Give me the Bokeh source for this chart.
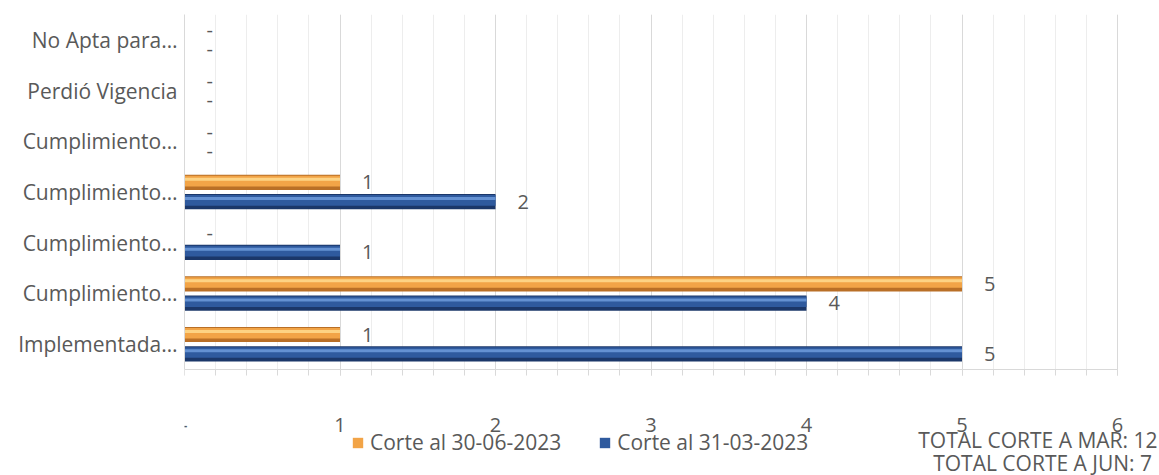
from bokeh.plotting import figure
from bokeh.models import (ColumnDataSource, Range1d, FixedTicker, SingleIntervalTicker,
                          Legend, LegendItem, Label, Grid)
from bokeh.transform import dodge
from bokeh.core.properties import value
from bokeh.embed import file_html
from bokeh.resources import INLINE
import numpy as np

# ---- data (bottom to top) ----
categories = ["Implementada…", "Cumplimiento…", "Cumplimiento…", "Cumplimiento…",
              "Cumplimiento…", "Perdió Vigencia", "No Apta para…"]
corte_jun = [1, 5, 0, 1, 0, 0, 0]   # Corte al 30-06-2023
corte_mar = [5, 4, 1, 2, 0, 0, 0]   # Corte al 31-03-2023
x_ticks = [0, 1, 2, 3, 4, 5, 6]
x_tick_labels = ["-", "1", "2", "3", "4", "5", "6"]
total_texts = ["TOTAL CORTE A MAR: 12", "TOTAL CORTE A JUN:  7"]
series_names = ["Corte al 30-06-2023", "Corte al 31-03-2023"]

pos = list(range(len(categories)))
src = ColumnDataSource(dict(
    y=pos, jun=corte_jun, mar=corte_mar,
    jun_lbl=[str(v) if v else "-" for v in corte_jun],
    mar_lbl=[str(v) if v else "-" for v in corte_mar],
))

FONT = "Open Sans"
TXT = "#595959"

# layout (pixels)
W, H = 1159, 475
FRAME_L, X6_PX, FRAME_T, AXIS_Y = 184, 1117, 14, 369
x_max = x_ticks[-1]
n = len(categories)
px_per_cat = (AXIS_Y - FRAME_T) / n
px_per_x = (X6_PX - FRAME_L) / x_max
y_lo = -0.5 - (H - AXIS_Y) / px_per_cat
y_hi = n - 0.5
x_hi = x_max + (W - X6_PX) / px_per_x

p = figure(width=W, height=H, output_backend="svg", toolbar_location=None,
           x_range=Range1d(0, x_hi), y_range=Range1d(y_lo, y_hi),
           min_border_left=FRAME_L, min_border_right=0,
           min_border_top=FRAME_T, min_border_bottom=0)
p.outline_line_color = None
p.background_fill_color = "white"

# grid limited to the plot region
p.ygrid.grid_line_color = None
if "cross_bounds" in Grid.properties():
    p.xgrid.bounds = (0, x_max)
    p.xgrid.cross_bounds = (-0.5, y_hi)
    p.xgrid.grid_line_color = "#D9D9D9"
    p.xgrid.minor_grid_line_color = "#EDEDED"
    p.xgrid.ticker = SingleIntervalTicker(interval=1, num_minor_ticks=5)
else:
    p.xgrid.grid_line_color = None
    minor = [v for v in np.round(np.arange(0, x_max + 0.001, 0.2), 2) if v not in x_ticks]
    p.segment(x0=minor, x1=minor, y0=-0.5, y1=y_hi, line_color="#EDEDED", line_width=1)
    p.segment(x0=x_ticks, x1=x_ticks, y0=-0.5, y1=y_hi, line_color="#D9D9D9", line_width=1)

# x axis at fixed location
xa = p.xaxis[0]
xa.fixed_location = -0.5
xa.bounds = (0, x_max)
xa.ticker = SingleIntervalTicker(interval=1, num_minor_ticks=5)
xa.major_label_overrides = {t: l for t, l in zip(x_ticks, x_tick_labels)}
xa.axis_line_color = "#D9D9D9"
xa.major_tick_line_color = "#D9D9D9"
xa.minor_tick_line_color = "#D9D9D9"
xa.major_tick_in = 0
xa.minor_tick_in = 0
xa.major_tick_out = 6
xa.minor_tick_out = 6
xa.major_label_standoff = 42
xa.major_label_text_font = FONT
xa.major_label_text_font_size = "20px"
xa.major_label_text_color = TXT

# y axis
ya = p.yaxis[0]
ya.bounds = (-0.5, y_hi)
ya.ticker = FixedTicker(ticks=pos)
ya.major_label_overrides = {i: c for i, c in zip(pos, categories)}
ya.axis_line_color = "#D9D9D9"
ya.major_tick_line_color = None
ya.minor_tick_line_color = None
ya.major_tick_out = 0
ya.major_tick_in = 0
ya.major_label_standoff = 7
ya.major_label_text_font = FONT
ya.major_label_text_font_size = "21px"
ya.major_label_text_color = TXT

OFF = 0.19
BH = 0.30
series = [
    ("jun", "jun_lbl", OFF, "#B96F26", "#F2A447", "#FFDC8F"),
    ("mar", "mar_lbl", -OFF, "#1B3769", "#2F5A9E", "#6D9BDB"),
]
legend_items = []
for (col, lbl, off, dark, base, light), name in zip(series, series_names):
    p.hbar(y=dodge("y", off, range=p.y_range), right=col, left=0, height=BH, source=src,
           fill_color=dark, line_color=None)
    mid = p.hbar(y=dodge("y", off + 0.025, range=p.y_range), right=col, left=0, height=BH - 0.09,
                 source=src, fill_color=base, line_color=None)
    p.hbar(y=dodge("y", off + 0.06, range=p.y_range), right=col, left=0, height=0.06,
           source=src, fill_color=light, line_color=None, fill_alpha=0.85)
    p.text(x=col, y=dodge("y", off, range=p.y_range), text=lbl, source=src,
           x_offset=22, text_align="left", text_baseline="middle",
           text_font=value(FONT), text_font_size="20px", text_color=TXT)
    legend_items.append(LegendItem(label=name, renderers=[mid]))

legend = Legend(items=legend_items, orientation="horizontal",
                location=(351 - FRAME_L, H - 456),
                label_text_font=FONT, label_text_font_size="21px", label_text_color=TXT,
                glyph_width=13, glyph_height=13, label_standoff=6, spacing=37,
                padding=0, margin=0, border_line_color=None, background_fill_alpha=0,
                label_height=20)
p.add_layout(legend, "center")

total_y = [439, 462]
for t, ty in zip(total_texts, total_y):
    p.add_layout(Label(x=x_max, y=-0.5, x_offset=1157 - X6_PX, y_offset=-(ty - AXIS_Y),
                       text=t, text_align="right", text_baseline="middle",
                       text_font=FONT, text_font_size="21px", text_color=TXT))

open("out.html", "w").write(file_html(p, INLINE))
